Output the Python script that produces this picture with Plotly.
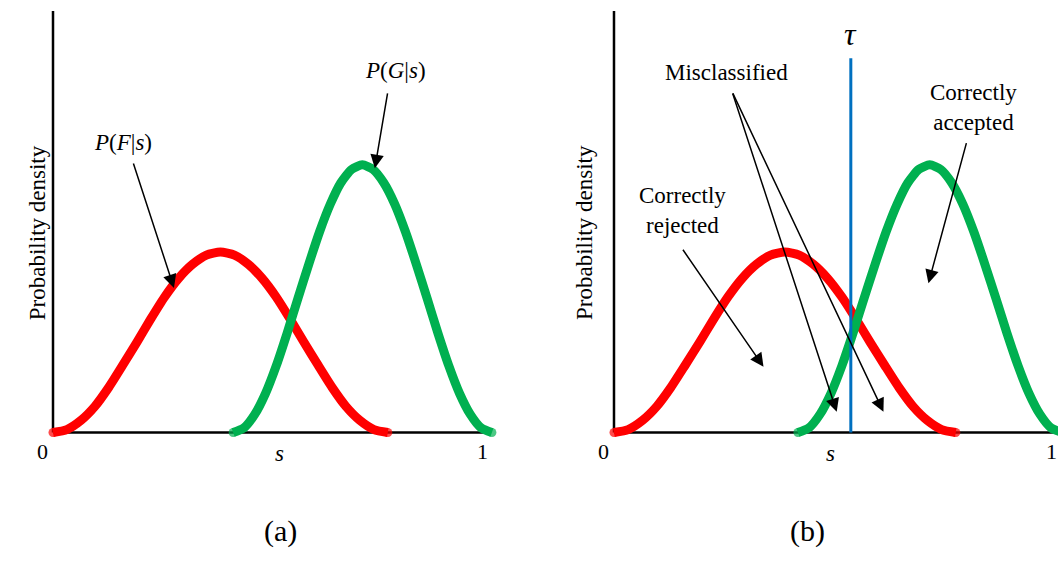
import plotly.graph_objects as go
from plotly.subplots import make_subplots

# ---- data ----
s_fake = [0.0, 0.032, 0.065, 0.097, 0.129, 0.161, 0.194, 0.226, 0.258, 0.291, 0.323, 0.355, 0.3875,
          0.420, 0.452, 0.484, 0.517, 0.549, 0.581, 0.614, 0.646, 0.678, 0.710, 0.743, 0.775]
p_fake = [0.0, 0.007, 0.029, 0.062, 0.107, 0.159, 0.214, 0.269, 0.321, 0.366, 0.399, 0.421, 0.428,
          0.421, 0.399, 0.366, 0.321, 0.269, 0.214, 0.159, 0.107, 0.062, 0.029, 0.007, 0.0]
s_genuine = [0.417, 0.442, 0.467, 0.492, 0.517, 0.542, 0.567, 0.592, 0.617, 0.642, 0.666, 0.691, 0.716,
             0.741, 0.766, 0.791, 0.816, 0.841, 0.866, 0.891, 0.916, 0.941, 0.966, 0.991, 1.016]
p_genuine = [0.0, 0.011, 0.043, 0.093, 0.159, 0.236, 0.318, 0.399, 0.476, 0.542, 0.592, 0.624, 0.635,
             0.624, 0.592, 0.542, 0.476, 0.399, 0.318, 0.236, 0.159, 0.093, 0.043, 0.011, 0.0]
tau = 0.537
tau_top = 0.888
tick_vals = [0, 1]
tick_text = ["0", "1"]

RED = "#FF0000"
GREEN = "#00B050"
BLUE = "#0070C0"
FONT = "Liberation Serif"
W, H = 1058, 565
LW = 9

fig = make_subplots(rows=1, cols=2)


def cap_sizes(n, s=LW):
    return [s] + [0] * (n - 2) + [s]


for col in (1, 2):
    fig.add_trace(go.Scatter(x=s_fake, y=p_fake, mode="lines+markers", cliponaxis=False,
                             line=dict(color=RED, width=LW, shape="spline", smoothing=0.6),
                             marker=dict(color=RED, size=cap_sizes(len(s_fake)), line=dict(width=0)),
                             showlegend=False, hoverinfo="skip"), row=1, col=col)
    fig.add_trace(go.Scatter(x=s_genuine, y=p_genuine, mode="lines+markers", cliponaxis=False,
                             line=dict(color=GREEN, width=LW, shape="spline", smoothing=0.6),
                             marker=dict(color=GREEN, size=cap_sizes(len(s_genuine)), line=dict(width=0)),
                             showlegend=False, hoverinfo="skip"), row=1, col=col)

fig.add_trace(go.Scatter(x=[tau, tau], y=[0, tau_top], mode="lines", cliponaxis=False,
                         line=dict(color=BLUE, width=3),
                         showlegend=False, hoverinfo="skip"), row=1, col=2)

# axis geometry (pixels): s=0 at x0, pixel per unit kx
x0L, kxL = 53.0, 432.0
x0R, kxR = 614.0, 441.0
y0, ky = 432.5, 421.5
xrL = [-0.014, 1.03]
xrR = [-0.014, (W - x0R) / kxR]
yr = [-0.017, 1.0]

left_dom = [(x0L + xrL[0] * kxL) / W, (x0L + xrL[1] * kxL) / W]
right_dom = [(x0R + xrR[0] * kxR) / W, min(1.0, (x0R + xrR[1] * kxR) / W)]
ydom = [1 - (y0 - yr[0] * ky) / H, 1 - (y0 - yr[1] * ky) / H]

axis_common = dict(showgrid=False, zeroline=False, showticklabels=False, ticks="", showline=False)
fig.update_layout(
    xaxis=dict(domain=left_dom, range=xrL, **axis_common),
    xaxis2=dict(domain=right_dom, range=xrR, **axis_common),
    yaxis=dict(domain=ydom, range=yr, anchor="x", **axis_common),
    yaxis2=dict(domain=ydom, range=yr, anchor="x2", **axis_common),
)

shapes = []
for xr, yrf, xend in (("x", "y", 1.0), ("x2", "y2", xrR[1])):
    shapes.append(dict(type="line", xref=xr, yref=yrf, x0=0, y0=0, x1=xend, y1=0,
                       line=dict(color="black", width=2.5), layer="below"))
    shapes.append(dict(type="line", xref=xr, yref=yrf, x0=0, y0=0, x1=0, y1=1,
                       line=dict(color="black", width=2.5), layer="below"))

ann = []
fs = 23


def txt(text, x, y, xref, yref, size=fs, **kw):
    ann.append(dict(text=text, x=x, y=y, xref=xref, yref=yref, showarrow=False,
                    font=dict(family=FONT, size=size, color="black"), **kw))


def arrow(xt, yt, xh, yh, xr, yr_):
    ann.append(dict(text="", x=xh, y=yh, ax=xt, ay=yt, xref=xr, yref=yr_, axref=xr, ayref=yr_,
                    showarrow=True, arrowhead=2, arrowsize=1.8, arrowwidth=1.5,
                    arrowcolor="black", standoff=0, startstandoff=0))


for xr, yrf, lbl, xs in (("x", "y", "(a)", 262), ("x2", "y2", "(b)", 826.7)):
    txt(tick_text[0], tick_vals[0], 0, xr, yrf, size=22, xanchor="right", yanchor="top", xshift=-3, yshift=-4)
    txt(tick_text[1], tick_vals[1], 0, xr, yrf, size=22, xanchor="center", yanchor="top", xshift=-3, yshift=-4)
    txt("<i>s</i>", (xs + 10.7) / W, 1 - 468 / H, "paper", "paper")
    txt(lbl, xs / W, 1 - 550 / H, "paper", "paper", size=30)

# y titles
txt("Probability density", 22.7 / W, 1 - 233 / H, "paper", "paper", textangle=-90)
txt("Probability density", 584 / W, 1 - 233 / H, "paper", "paper", textangle=-90)

# left panel labels
txt("<i>P</i>(<i>F</i>|<i>s</i>)", 0.162, 0.687, "x", "y")
txt("<i>P</i>(<i>G</i>|<i>s</i>)", 0.792, 0.860, "x", "y")
arrow(0.185, 0.642, 0.280, 0.343, "x", "y")
arrow(0.775, 0.808, 0.745, 0.627, "x", "y")

# right panel labels
txt("Misclassified", 0.256, 0.853, "x2", "y2")
txt("Correctly<br>accepted", 0.816, 0.770, "x2", "y2")
txt("Correctly<br>rejected", 0.156, 0.527, "x2", "y2")
txt("<i>τ</i>", tau, 0.945, "x2", "y2", size=32)
arrow(0.268, 0.808, 0.505, 0.049, "x2", "y2")
arrow(0.268, 0.808, 0.611, 0.049, "x2", "y2")
arrow(0.800, 0.690, 0.713, 0.354, "x2", "y2")
arrow(0.154, 0.437, 0.339, 0.156, "x2", "y2")

fig.update_layout(annotations=ann, shapes=shapes, width=W, height=H,
                  margin=dict(l=0, r=0, t=0, b=0),
                  plot_bgcolor="white", paper_bgcolor="white")

fig.write_html("out.html")
